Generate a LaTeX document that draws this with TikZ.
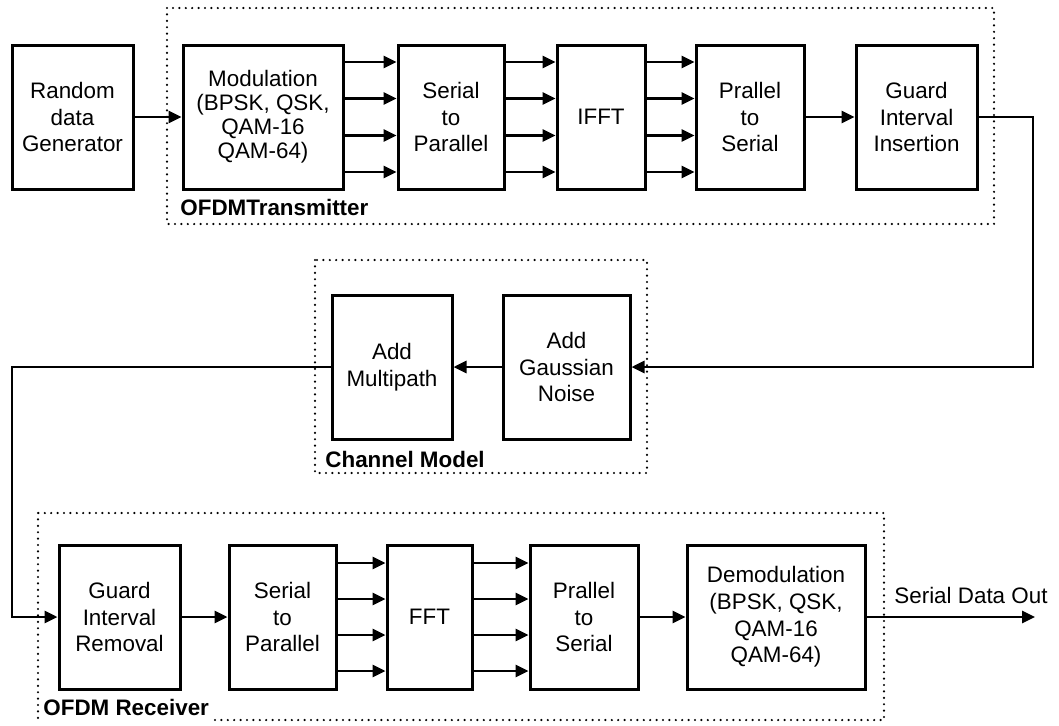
\documentclass[tikz,border=0pt]{standalone}
\usepackage{fontspec}
\setmainfont{Liberation Sans}
\usetikzlibrary{arrows.meta, calc}

\begin{document}
\begin{tikzpicture}[x=0.5pt, y=-0.5pt, >={Triangle[length=6.5pt, width=6pt]},
    line width=1.4pt, font=\fontsize{11.2}{13.3}\selectfont,
    block/.style={draw, line width=1.5pt, align=center, inner sep=0pt, minimum height=72pt},
    group/.style={draw, line width=1.2pt, line cap=round, dash pattern=on 0pt off 3.2pt},
    grouplabel/.style={anchor=base west, inner sep=1pt, font=\fontsize{11.2}{13.3}\selectfont\bfseries}]
    \useasboundingbox (0,0) rectangle (1059,725);
    % Transmitter
    \draw[group] (167,8) rectangle (994,224);
    \node[grouplabel] (txlabel) at (177,215) {OFDMTransmitter};
    \node[block, minimum width=60.5pt] (rand) at (72.5,117) {Random\\data\\Generator};
    \node[block, minimum width=80pt, font=\fontsize{11.2}{12}\selectfont] (mod) at (263,117) {Modulation\\(BPSK, QSK,\\QAM-16\\QAM-64)};
    \node[block, minimum width=53pt] (s2p) at (451,117) {Serial\\to\\Parallel};
    \node[block, minimum width=44pt] (ifft) at (601,117) {IFFT};
    \node[block, minimum width=54pt] (p2s) at (750,117) {Prallel\\to\\Serial};
    \node[block, minimum width=60.5pt] (gii) at (916.5,117) {Guard\\Interval\\Insertion};
    \draw[->] (rand) -- (mod);
    \foreach \dy in {-55,-18.5,18.5,55} {
        \draw[->] ($(mod.east)+(0,\dy)$) -- ($(s2p.west)+(0,\dy)$);
        \draw[->] ($(s2p.east)+(0,\dy)$) -- ($(ifft.west)+(0,\dy)$);
        \draw[->] ($(ifft.east)+(0,\dy)$) -- ($(p2s.west)+(0,\dy)$);
    }
    \draw[->] (p2s) -- (gii);
    % Channel
    \draw[group] (315,260) rectangle (647,473);
    \node[grouplabel] (chlabel) at (322,467) {Channel Model};
    \node[block, minimum width=60pt] (amp) at (392,367) {Add\\Multipath};
    \node[block, minimum width=63.5pt] (agn) at (566.5,367) {Add\\Gaussian\\Noise};
    \coordinate (bendR) at (1033,117);
    \draw[->] (gii.east) -- (bendR) |- (agn.east);
    \draw[->] (agn) -- (amp);
    % Receiver
    \draw[group] (38,513) rectangle (884,720);
    \node[grouplabel, fill=white, inner ysep=3.5pt] (rxlabel) at (40,715) {OFDM Receiver};
    \node[block, minimum width=60.5pt] (gir) at (119.5,617) {Guard\\Interval\\Removal};
    \node[block, minimum width=53.5pt] (s2pr) at (282.5,617) {Serial\\to\\Parallel};
    \node[block, minimum width=42.5pt] (fft) at (429.5,617) {FFT};
    \node[block, minimum width=54pt] (p2sr) at (584,617) {Prallel\\to\\Serial};
    \node[block, minimum width=89pt] (demod) at (776,617) {Demodulation\\(BPSK, QSK,\\QAM-16\\QAM-64)};
    \coordinate (bendL) at (12,367);
    \draw[->] (amp.west) -- (bendL) |- (gir.west);
    \draw[->] (gir) -- (s2pr);
    \foreach \dy in {-54,-18,18,54} {
        \draw[->] ($(s2pr.east)+(0,\dy)$) -- ($(fft.west)+(0,\dy)$);
        \draw[->] ($(fft.east)+(0,\dy)$) -- ($(p2sr.west)+(0,\dy)$);
    }
    \draw[->] (p2sr) -- (demod);
    \coordinate (out) at (1035,617);
    \draw[->] (demod.east) -- (out);
    \node[anchor=base west, inner sep=0pt] (outlabel) at (893,603) {Serial Data Out};
\end{tikzpicture}
\end{document}
